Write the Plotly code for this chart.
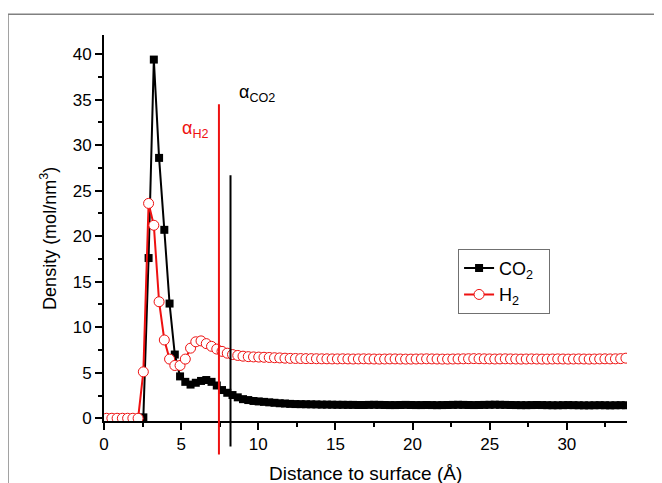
import plotly.graph_objects as go

# Distance bins (Å)
distance = [0.17, 0.51, 0.85, 1.19, 1.53, 1.87, 2.21, 2.55, 2.89, 3.23,
            3.57, 3.91, 4.25, 4.59, 4.93, 5.27, 5.61, 5.95, 6.29, 6.63,
            6.97, 7.31, 7.65, 7.99, 8.33, 8.67, 9.01, 9.35, 9.69, 10.03,
            10.37, 10.71, 11.05, 11.39, 11.73, 12.07, 12.41, 12.75, 13.09, 13.43,
            13.77, 14.11, 14.45, 14.79, 15.13, 15.47, 15.81, 16.15, 16.49, 16.83,
            17.17, 17.51, 17.85, 18.19, 18.53, 18.87, 19.21, 19.55, 19.89, 20.23,
            20.57, 20.91, 21.25, 21.59, 21.93, 22.27, 22.61, 22.95, 23.29, 23.63,
            23.97, 24.31, 24.65, 24.99, 25.33, 25.67, 26.01, 26.35, 26.69, 27.03,
            27.37, 27.71, 28.05, 28.39, 28.73, 29.07, 29.41, 29.75, 30.09, 30.43,
            30.77, 31.11, 31.45, 31.79, 32.13, 32.47, 32.81, 33.15, 33.49, 33.83]

co2_density = [0, 0, 0, 0, 0, 0, 0, 0.1, 17.6, 39.4,
               28.6, 20.7, 12.6, 7.0, 4.6, 4.0, 3.7, 3.9, 4.1, 4.2,
               4.0, 3.6, 3.1, 2.8, 2.55, 2.3, 2.1, 2.0, 1.9, 1.85,
               1.8, 1.75, 1.7, 1.65, 1.62, 1.58, 1.56, 1.55, 1.54, 1.53,
               1.52, 1.5, 1.5, 1.49, 1.48, 1.48, 1.47, 1.47, 1.46, 1.46,
               1.47, 1.48, 1.47, 1.46, 1.45, 1.45, 1.46, 1.47, 1.46, 1.45,
               1.45, 1.46, 1.45, 1.44, 1.45, 1.46, 1.47, 1.48, 1.47, 1.46,
               1.45, 1.46, 1.47, 1.48, 1.49, 1.48, 1.47, 1.46, 1.45, 1.44,
               1.44, 1.45, 1.46, 1.45, 1.44, 1.43, 1.43, 1.44, 1.45, 1.44,
               1.43, 1.42, 1.42, 1.43, 1.44, 1.43, 1.42, 1.43, 1.44, 1.43]

h2_density = [0, 0, 0, 0, 0, 0, 0, 5.1, 23.6, 21.2,
              12.8, 8.6, 6.5, 5.8, 5.8, 6.5, 7.7, 8.4, 8.5, 8.2,
              7.9, 7.6, 7.35, 7.15, 7.0, 6.9, 6.82, 6.77, 6.74, 6.72,
              6.7, 6.68, 6.65, 6.63, 6.6, 6.58, 6.57, 6.56, 6.55, 6.55,
              6.54, 6.53, 6.53, 6.52, 6.52, 6.53, 6.52, 6.51, 6.52, 6.53,
              6.52, 6.51, 6.5, 6.51, 6.52, 6.52, 6.51, 6.5, 6.5, 6.51,
              6.52, 6.53, 6.52, 6.51, 6.5, 6.5, 6.51, 6.52, 6.53, 6.54,
              6.55, 6.54, 6.53, 6.52, 6.51, 6.52, 6.53, 6.52, 6.51, 6.5,
              6.51, 6.52, 6.51, 6.5, 6.5, 6.51, 6.52, 6.51, 6.5, 6.51,
              6.52, 6.51, 6.5, 6.51, 6.52, 6.53, 6.52, 6.53, 6.55, 6.6]

alpha_h2 = 7.45
alpha_h2_top = 34.5
alpha_co2 = 8.2
alpha_co2_top = 26.7

x_range = [0, 33.9]
y_range = [-0.3, 42.1]

FONT = "Liberation Sans, Arial, sans-serif"

fig = go.Figure()
fig.add_trace(go.Scatter(
    x=distance, y=co2_density, mode="lines+markers", name="CO<sub>2</sub>  ",
    line=dict(color="black", width=2),
    marker=dict(symbol="square", size=8, color="black"),
))
fig.add_trace(go.Scatter(
    x=distance, y=h2_density, mode="lines+markers", name="H<sub>2</sub>",
    line=dict(color="#ee1111", width=2),
    marker=dict(symbol="circle", size=10, color="white",
                line=dict(color="#ee1111", width=1)),
))


def ypaper(v):
    return (v - y_range[0]) / (y_range[1] - y_range[0])


shapes = [
    dict(type="line", xref="x", yref="paper", x0=alpha_h2, x1=alpha_h2,
         y0=-0.087, y1=ypaper(alpha_h2_top), line=dict(color="#ee1111", width=2)),
    dict(type="line", xref="x", yref="paper", x0=alpha_co2, x1=alpha_co2,
         y0=-0.066, y1=ypaper(alpha_co2_top), line=dict(color="black", width=2)),
    dict(type="rect", xref="paper", yref="paper", x0=-0.1836, x1=1.1, y0=-0.2,
         y1=1.054, line=dict(color="#808080", width=1.5), layer="below"),
]

annotations = [
    dict(x=8.6, y=35.7, xref="x", yref="y", text="α<sub>CO2</sub>",
         showarrow=False, xanchor="left", yanchor="middle",
         font=dict(family=FONT, size=18, color="black")),
    dict(x=4.93, y=31.7, xref="x", yref="y", text="α<sub>H2</sub>",
         showarrow=False, xanchor="left", yanchor="middle",
         font=dict(family=FONT, size=18, color="#ee1111")),
    dict(x=0.5, y=-0.136, xref="paper", yref="paper",
         text="Distance to surface (Å)", showarrow=False,
         xanchor="center", yanchor="middle",
         font=dict(family=FONT, size=19, color="black")),
    dict(x=-0.105, y=0.472, xref="paper", yref="paper",
         text="Density (mol/nm<sup>3</sup>)", showarrow=False, textangle=-90,
         xanchor="center", yanchor="middle",
         font=dict(family=FONT, size=18, color="black")),
]

fig.update_layout(
    width=654, height=475,
    margin=dict(l=96, r=35, t=27, b=61.5),
    paper_bgcolor="white", plot_bgcolor="white",
    font=dict(family=FONT, size=17, color="black"),
    shapes=shapes, annotations=annotations,
    showlegend=True,
    legend=dict(x=0.677, y=0.446, xanchor="left", yanchor="top",
                bordercolor="#707070", borderwidth=1, bgcolor="white",
                font=dict(family=FONT, size=18, color="black"),
                tracegroupgap=0),
    xaxis=dict(range=x_range, showline=True, linecolor="black", linewidth=2,
               ticks="outside", ticklen=7, tickwidth=2, tickcolor="black",
               tickvals=[0, 5, 10, 15, 20, 25, 30], showgrid=False, zeroline=False,
               minor=dict(ticks="outside", ticklen=4, tickwidth=2, tickcolor="black",
                          tickvals=[2.5, 7.5, 12.5, 17.5, 22.5, 27.5, 32.5]),
               tickfont=dict(family=FONT, size=17)),
    yaxis=dict(range=y_range, showline=True, linecolor="black", linewidth=2,
               ticks="outside", ticklen=7, tickwidth=2, tickcolor="black",
               tickvals=[0, 5, 10, 15, 20, 25, 30, 35, 40], showgrid=False, zeroline=False,
               minor=dict(ticks="outside", ticklen=4, tickwidth=2, tickcolor="black",
                          tickvals=[2.5, 7.5, 12.5, 17.5, 22.5, 27.5, 32.5, 37.5]),
               tickfont=dict(family=FONT, size=17)),
)

fig.write_html("out.html")
